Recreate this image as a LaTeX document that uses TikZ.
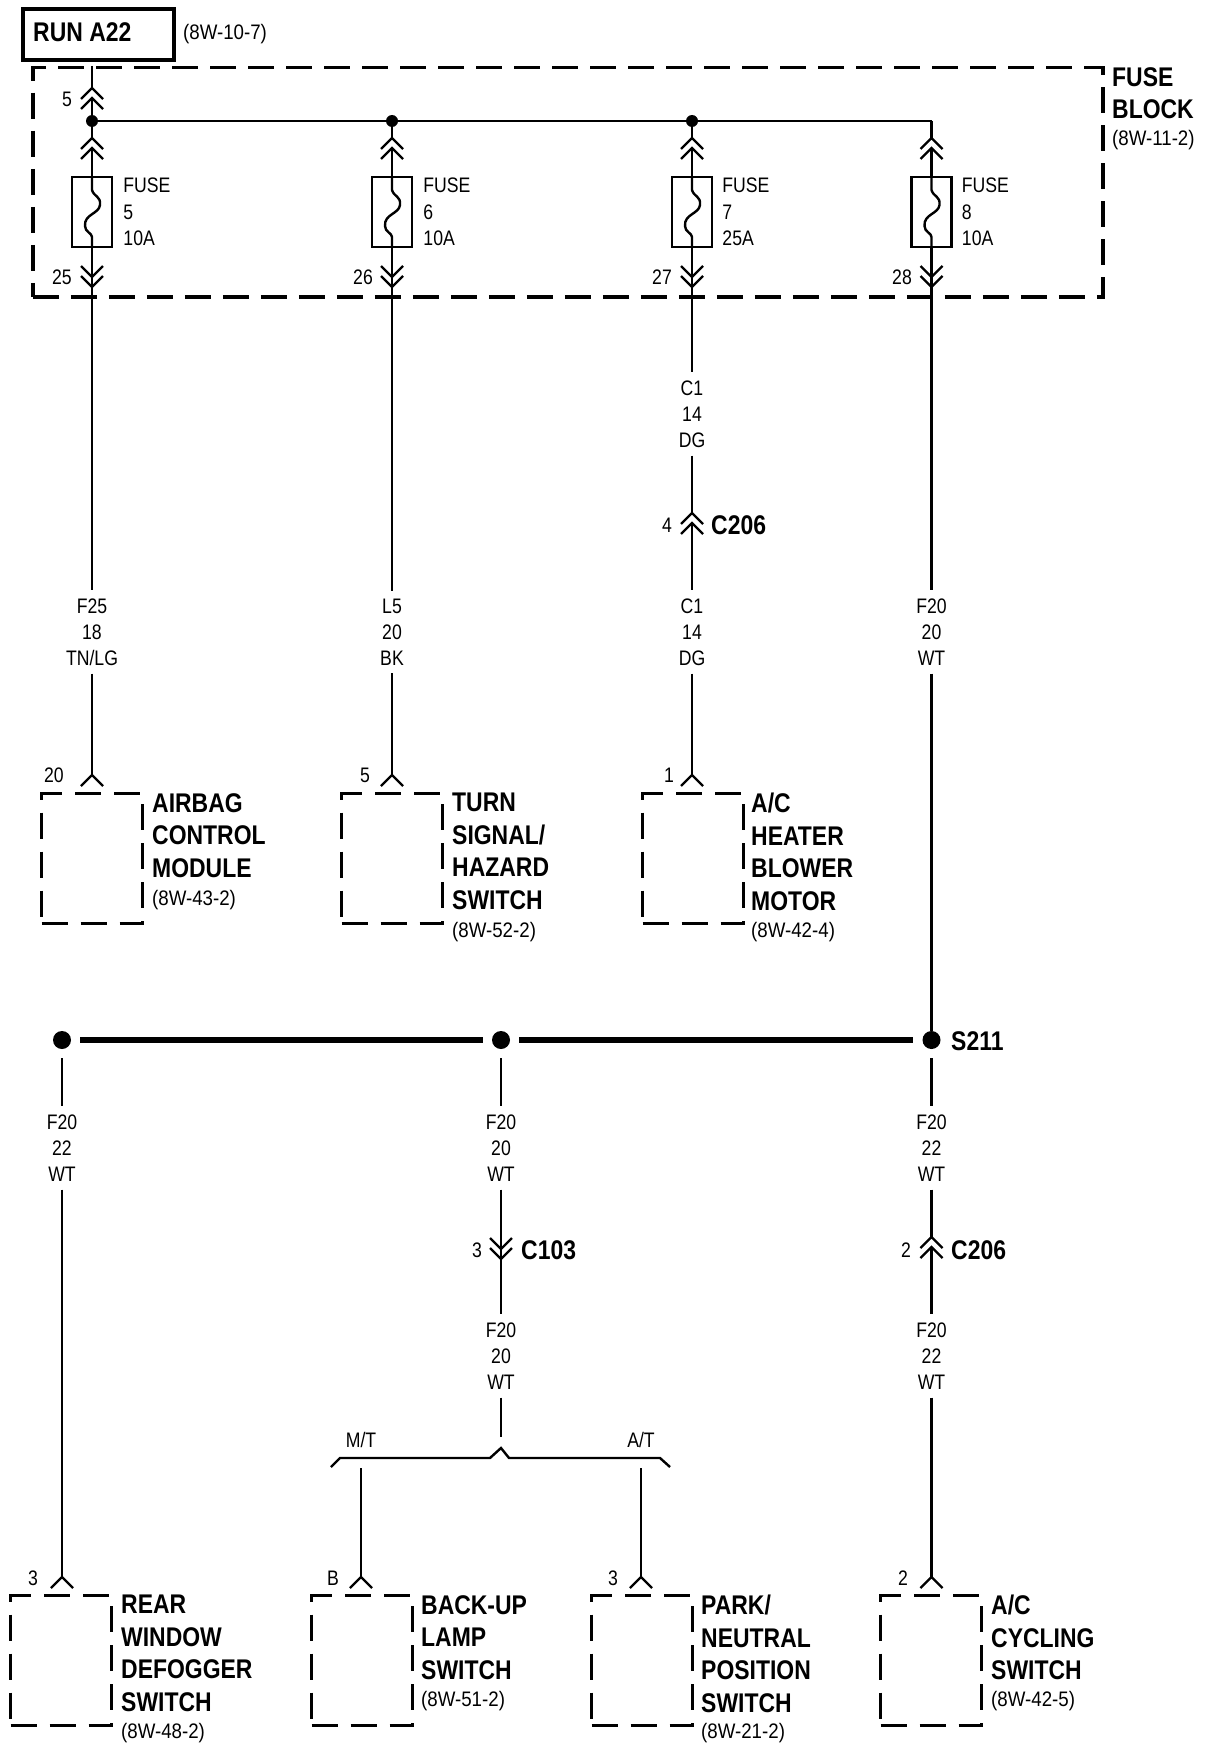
\documentclass[tikz,border=0pt]{standalone}
\usepackage{fontspec}
\setmainfont{Liberation Sans}
\newfontfamily\smallsans[FakeStretch=0.84]{Liberation Sans}
\newfontfamily\refsans[FakeStretch=0.89]{Liberation Sans}
\newfontfamily\boldsans[FakeStretch=0.85]{Liberation Sans Bold}
\usetikzlibrary{positioning}

\tikzset{
    wire/.style={line width=2.4pt},
    bus/.style={line width=5.5pt},
    wirelabel/.style={align=center, inner sep=0pt, inner ysep=8pt, font=\smallsans\fontsize{21}{26}\selectfont},
    fuselabel/.style={align=left, inner sep=0pt, font=\smallsans\fontsize{21}{26.5}\selectfont},
    pinlabel/.style={inner sep=0pt, font=\smallsans\fontsize{21}{26}\selectfont},
    reflabel/.style={anchor=west, inner sep=0pt, font=\refsans\fontsize{21}{26}\selectfont},
    namelabel/.style={anchor=north west, align=left, inner sep=0pt, font=\boldsans\fontsize{27}{32.5}\selectfont},
    boldlabel/.style={anchor=west, inner sep=0pt, font=\boldsans\fontsize{27}{32.5}\selectfont},
    modbox/.style={draw, line width=3.2pt, dash pattern=on 26pt off 13pt, anchor=north west, minimum width=101pt, minimum height=130pt, inner sep=0pt},
    fusebox/.style={draw, line width=2.5pt, minimum width=40pt, minimum height=70pt, inner sep=0pt},
    smalldot/.style={circle, fill=black, inner sep=0pt, minimum size=12pt},
    bigdot/.style={circle, fill=black, inner sep=0pt, minimum size=18pt},
    pics/chevup/.style={code={\draw[wire] (-11,11) -- (0,0) -- (11,11);}},
    pics/chevdown/.style={code={\draw[wire] (-11,-11) -- (0,0) -- (11,-11);}},
    pics/dblup/.style={code={\draw[wire] (-11,11) -- (0,0) -- (11,11); \draw[wire] (-11,21) -- (0,10) -- (11,21);}},
    pics/dbldown/.style={code={\draw[wire] (-11,-11) -- (0,0) -- (11,-11); \draw[wire] (-11,-21) -- (0,-10) -- (11,-21);}},
    pics/fuselink/.style={code={\draw[wire] (0,-35) -- (0,-22) .. controls (2,-15) and (9,-16) .. (8,-7) .. controls (7,2) and (-8,2) .. (-7,14) .. controls (-7,20) and (0,21) .. (0,25) -- (0,35);}}
}

\begin{document}
\begin{tikzpicture}[x=1pt, y=-1pt]
    \useasboundingbox (0,0) rectangle (1216,1750);

    % header
    \node[draw, line width=4pt, anchor=north west, minimum width=151pt, minimum height=51pt, inner sep=0pt] (run) at (21,7) {};
    \node[boldlabel] (runtext) at (33,32) {RUN A22};
    \node[reflabel, right=7pt of run] (runref) {(8W-10-7)};

    % fuse block
    \node[draw, line width=3.5pt, dash pattern=on 26pt off 12pt, anchor=north west, minimum width=1070pt, minimum height=229pt, inner sep=0pt] (block) at (31,66) {};
    \node[namelabel] (blockname) at (1112,67) {FUSE\\BLOCK};
    \node[reflabel] (blockref) at (1112,140) {(8W-11-2)};

    \coordinate (top5) at (92,66);
    \coordinate (in5a) at (92,88);
    \coordinate (in5b) at (92,98);
    \pic at (in5a) {dblup};
    \node[pinlabel] (pin5) at (67,99) {5};
    \node[smalldot] (d5) at (92,121) {};
    \node[smalldot] (d6) at (392,121) {};
    \node[smalldot] (d7) at (692,121) {};
    \coordinate (d8) at (931.5,121);
    \draw[wire] (top5) -- (in5a);
    \draw[wire] (in5b) -- (d5);
    \draw[wire] (d5) -- (d6) -- (d7) -- (d8);

    % fuses
    \node[fusebox] (fa) at (92,212) {};
    \node[fusebox] (fb) at (392,212) {};
    \node[fusebox] (fc) at (692,212) {};
    \node[fusebox] (fd) at (931.5,212) {};
    \pic at (fa) {fuselink};
    \pic at (fb) {fuselink};
    \pic at (fc) {fuselink};
    \pic at (fd) {fuselink};
    \node[fuselabel, right=10pt of fa] (falabel) {FUSE\\5\\10A};
    \node[fuselabel, right=10pt of fb] (fblabel) {FUSE\\6\\10A};
    \node[fuselabel, right=9pt of fc] (fclabel) {FUSE\\7\\25A};
    \node[fuselabel, right=9pt of fd] (fdlabel) {FUSE\\8\\10A};

    \coordinate (ua) at (92,138);
    \coordinate (ub) at (392,138);
    \coordinate (uc) at (692,138);
    \coordinate (ud) at (931.5,138);
    \pic at (ua) {dblup};
    \pic at (ub) {dblup};
    \pic at (uc) {dblup};
    \pic at (ud) {dblup};
    \draw[wire] (d5) -- (ua);
    \draw[wire] (d6) -- (ub);
    \draw[wire] (d7) -- (uc);
    \draw[wire] (d8) -- (ud);
    \draw[wire] (92,148) -- (fa.north);
    \draw[wire] (392,148) -- (fb.north);
    \draw[wire] (692,148) -- (fc.north);
    \draw[wire] (931.5,148) -- (fd.north);

    \coordinate (la) at (92,287);
    \coordinate (lb) at (392,287);
    \coordinate (lc) at (692,287);
    \coordinate (ld) at (931.5,287);
    \pic at (la) {dbldown};
    \pic at (lb) {dbldown};
    \pic at (lc) {dbldown};
    \pic at (ld) {dbldown};
    \draw[wire] (fa.south) -- (la);
    \draw[wire] (fb.south) -- (lb);
    \draw[wire] (fc.south) -- (lc);
    \draw[wire] (fd.south) -- (ld);
    \node[pinlabel] (pin25) at (62,277) {25};
    \node[pinlabel] (pin26) at (363,277) {26};
    \node[pinlabel] (pin27) at (662,277) {27};
    \node[pinlabel] (pin28) at (902,277) {28};

    % upper wires
    \node[wirelabel] (f25) at (92,632) {F25\\18\\TN/LG};
    \node[wirelabel] (l5) at (392,632) {L5\\20\\BK};
    \node[wirelabel] (c1a) at (692,414) {C1\\14\\DG};
    \node[wirelabel] (c1b) at (692,632) {C1\\14\\DG};
    \node[wirelabel] (f20a) at (931.5,632) {F20\\20\\WT};

    \coordinate (c206up) at (692,513);
    \pic at (c206up) {dblup};
    \node[pinlabel] (pin4) at (667,525) {4};
    \node[boldlabel] (c206a) at (711,525) {C206};

    \coordinate (acmin) at (92,775);
    \coordinate (tsin) at (392,775);
    \coordinate (blowin) at (692,775);
    \pic at (acmin) {chevup};
    \pic at (tsin) {chevup};
    \pic at (blowin) {chevup};
    \node[pinlabel] (pin20) at (54,775) {20};
    \node[pinlabel] (pints) at (365,775) {5};
    \node[pinlabel] (pinbl) at (669,775) {1};

    \draw[wire] (la) -- (f25);
    \draw[wire] (f25) -- (acmin);
    \draw[wire] (lb) -- (l5);
    \draw[wire] (l5) -- (tsin);
    \draw[wire] (lc) -- (c1a);
    \draw[wire] (c1a) -- (c206up);
    \draw[wire] (692,523) -- (c1b);
    \draw[wire] (c1b) -- (blowin);
    \draw[wire] (ld) -- (f20a);

    % upper modules
    \node[modbox] (acm) at (40,792) {};
    \node[modbox] (ts) at (340,792) {};
    \node[modbox] (blow) at (641,792) {};
    \node[namelabel] (acmname) at (152,793) {AIRBAG\\CONTROL\\MODULE};
    \node[reflabel] (acmref) at (152,900) {(8W-43-2)};
    \node[namelabel] (tsname) at (452,793) {TURN\\SIGNAL/\\HAZARD\\SWITCH};
    \node[reflabel] (tsref) at (452,932) {(8W-52-2)};
    \node[namelabel] (blowname) at (751,793) {A/C\\HEATER\\BLOWER\\MOTOR};
    \node[reflabel] (blowref) at (751,932) {(8W-42-4)};

    % splice
    \node[bigdot] (s1) at (62,1040) {};
    \node[bigdot] (s2) at (501,1040) {};
    \node[bigdot] (s3) at (931.5,1040) {};
    \node[boldlabel] (s211) at (951,1041) {S211};
    \draw[bus, shorten <=9pt, shorten >=9pt] (s1) -- (s2);
    \draw[bus, shorten <=9pt, shorten >=9pt] (s2) -- (s3);
    \draw[wire] (f20a) -- (s3);

    % lower wires
    \node[wirelabel] (f20b) at (62,1148) {F20\\22\\WT};
    \node[wirelabel] (f20c) at (501,1148) {F20\\20\\WT};
    \node[wirelabel] (f20d) at (931.5,1148) {F20\\22\\WT};
    \node[wirelabel] (f20e) at (501,1356) {F20\\20\\WT};
    \node[wirelabel] (f20f) at (931.5,1356) {F20\\22\\WT};
    \draw[wire, shorten <=9pt] (s1) -- (f20b);
    \draw[wire, shorten <=9pt] (s2) -- (f20c);
    \draw[wire, shorten <=9pt] (s3) -- (f20d);

    \coordinate (c103) at (501,1259);
    \coordinate (c206dn) at (931.5,1237);
    \pic at (c103) {dbldown};
    \pic at (c206dn) {dblup};
    \node[pinlabel] (pin3a) at (477,1250) {3};
    \node[boldlabel] (c103name) at (521,1250) {C103};
    \node[pinlabel] (pin2a) at (906,1250) {2};
    \node[boldlabel] (c206b) at (951,1250) {C206};
    \draw[wire] (f20c) -- (c103);
    \draw[wire] (c103) -- (f20e);
    \draw[wire] (f20d) -- (c206dn);
    \draw[wire] (931.5,1247) -- (f20f);

    % branch
    \coordinate (brtop) at (501,1448);
    \coordinate (brl) at (331,1467);
    \coordinate (brr) at (670,1467);
    \draw[wire] (f20e) -- (501,1437);
    \draw[wire] (brl) -- (340,1458) -- (490,1458) -- (brtop) -- (509,1458) -- (660,1458) -- (brr);
    \node[pinlabel] (mt) at (361,1440) {M/T};
    \node[pinlabel] (at) at (641,1440) {A/T};
    \coordinate (mtfree) at (361,1468);
    \coordinate (atfree) at (641,1468);

    % lower modules
    \coordinate (rearin) at (62,1577);
    \coordinate (lampin) at (361,1577);
    \coordinate (parkin) at (641,1577);
    \coordinate (cyclein) at (931.5,1577);
    \pic at (rearin) {chevup};
    \pic at (lampin) {chevup};
    \pic at (parkin) {chevup};
    \pic at (cyclein) {chevup};
    \draw[wire] (f20b) -- (rearin);
    \draw[wire] (mtfree) -- (lampin);
    \draw[wire] (atfree) -- (parkin);
    \draw[wire] (f20f) -- (cyclein);
    \node[pinlabel] (pin3b) at (33,1578) {3};
    \node[pinlabel] (pinB) at (333,1578) {B};
    \node[pinlabel] (pin3c) at (613,1578) {3};
    \node[pinlabel] (pin2b) at (903,1578) {2};

    \node[modbox] (rear) at (9,1594) {};
    \node[modbox] (lamp) at (310,1594) {};
    \node[modbox] (park) at (590,1594) {};
    \node[modbox] (cycle) at (879,1594) {};
    \node[namelabel] (rearname) at (121,1595) {REAR\\WINDOW\\DEFOGGER\\SWITCH};
    \node[reflabel] (rearref) at (121,1733) {(8W-48-2)};
    \node[namelabel] (lampname) at (421,1595) {BACK-UP\\LAMP\\SWITCH};
    \node[reflabel] (lampref) at (421,1701) {(8W-51-2)};
    \node[namelabel] (parkname) at (701,1595) {PARK/\\NEUTRAL\\POSITION\\SWITCH};
    \node[reflabel] (parkref) at (701,1733) {(8W-21-2)};
    \node[namelabel] (cyclename) at (991,1595) {A/C\\CYCLING\\SWITCH};
    \node[reflabel] (cycleref) at (991,1701) {(8W-42-5)};
\end{tikzpicture}
\end{document}
